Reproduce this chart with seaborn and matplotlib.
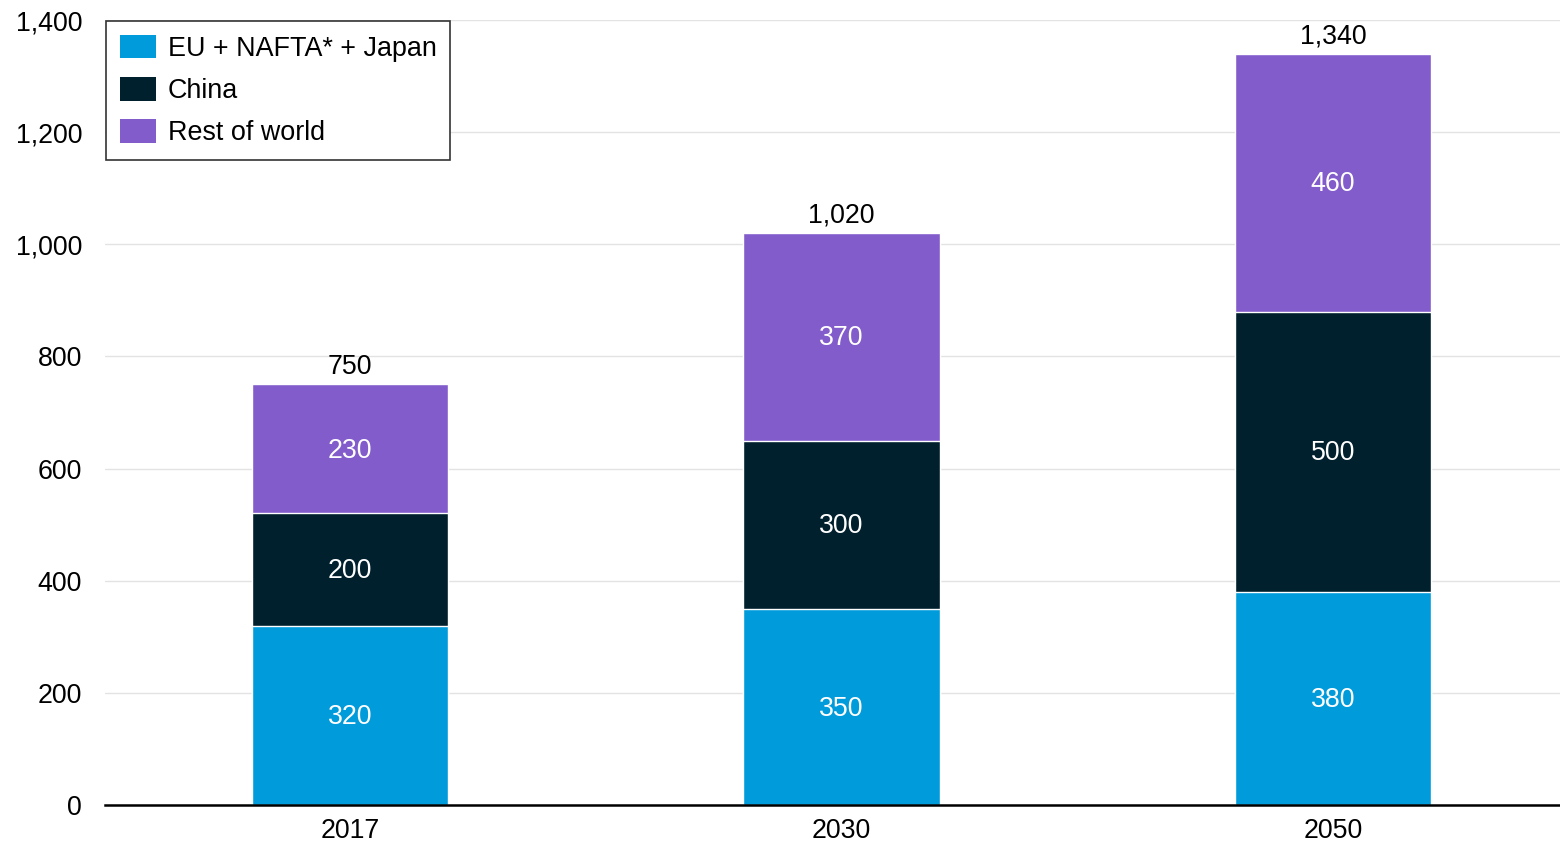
import numpy as np
import pandas as pd
import matplotlib
matplotlib.use("Agg")
import matplotlib.pyplot as plt
import seaborn as sns
from matplotlib.patches import Patch

years = ["2017", "2030", "2050"]
eu_nafta_japan = [320, 350, 380]
china = [200, 300, 500]
rest_of_world = [230, 370, 460]
totals = [750, 1020, 1340]

series_names = ["EU + NAFTA* + Japan", "China", "Rest of world"]
colors = ["#009bdb", "#00202e", "#825ccb"]

sns.set_theme(style="white")
plt.rcParams["font.family"] = ["Liberation Sans", "DejaVu Sans"]
plt.rcParams["text.color"] = "black"

fig = plt.figure(figsize=(15.6, 8.43), dpi=100)
ax = fig.add_axes([105 / 1560, 1 - 805 / 843, 1 - 105 / 1560, (805 - 20) / 843])

df = pd.DataFrame({
    "year": years,
    "eu": eu_nafta_japan,
    "china": china,
    "row": rest_of_world,
})
df["eu_china"] = df["eu"] + df["china"]
df["all"] = df["eu_china"] + df["row"]

# Stacked bars drawn as overlapping cumulative layers, back to front
for col, color in [("all", colors[2]), ("eu_china", colors[1]), ("eu", colors[0])]:
    sns.barplot(data=df, x="year", y=col, color=color, width=0.4,
                edgecolor="white", linewidth=1, saturation=1, ax=ax, zorder=3)

# Segment labels
label_size = 19.3
for i in range(len(years)):
    segs = [eu_nafta_japan[i], china[i], rest_of_world[i]]
    base = 0
    for v in segs:
        ax.text(i, base + v / 2 - 3, f"{v:,}", ha="center", va="center",
                color="white", fontsize=label_size, zorder=5)
        base += v
    ax.text(i, totals[i] + 8, f"{totals[i]:,}", ha="center", va="bottom",
            color="black", fontsize=label_size, zorder=5)

ax.set_ylim(0, 1400)
ax.set_xlim(-0.4985, 2.462)
ax.set_yticks(np.arange(0, 1401, 200))
ax.set_yticklabels([f"{v:,}" for v in range(0, 1401, 200)])
ax.tick_params(axis="both", length=0, labelsize=19.3, colors="black")
ax.tick_params(axis="y", pad=16.5)
ax.tick_params(axis="x", pad=9.5)
ax.set_xlabel("")
ax.set_ylabel("")

ax.yaxis.grid(True, color="#e3e3e3", linewidth=1)
ax.set_axisbelow(True)
for s in ["left", "right", "top"]:
    ax.spines[s].set_visible(False)
ax.spines["bottom"].set_color("black")
ax.spines["bottom"].set_linewidth(1.8)
ax.spines["bottom"].set_zorder(6)

handles = [Patch(facecolor=c, edgecolor="none") for c in colors]
leg = ax.legend(handles, series_names, loc="upper left",
                bbox_to_anchor=(0.0, 1.0), fontsize=19.4, frameon=True,
                fancybox=False, edgecolor="#333333", framealpha=1,
                handlelength=1.33, handleheight=0.96, handletextpad=0.45,
                labelspacing=0.57, borderpad=0.5, borderaxespad=0.05)
leg.get_frame().set_linewidth(1.2)
for t in leg.get_texts():
    t.set_color("black")
leg.set_zorder(10)

fig.savefig("out.png", dpi=100)
